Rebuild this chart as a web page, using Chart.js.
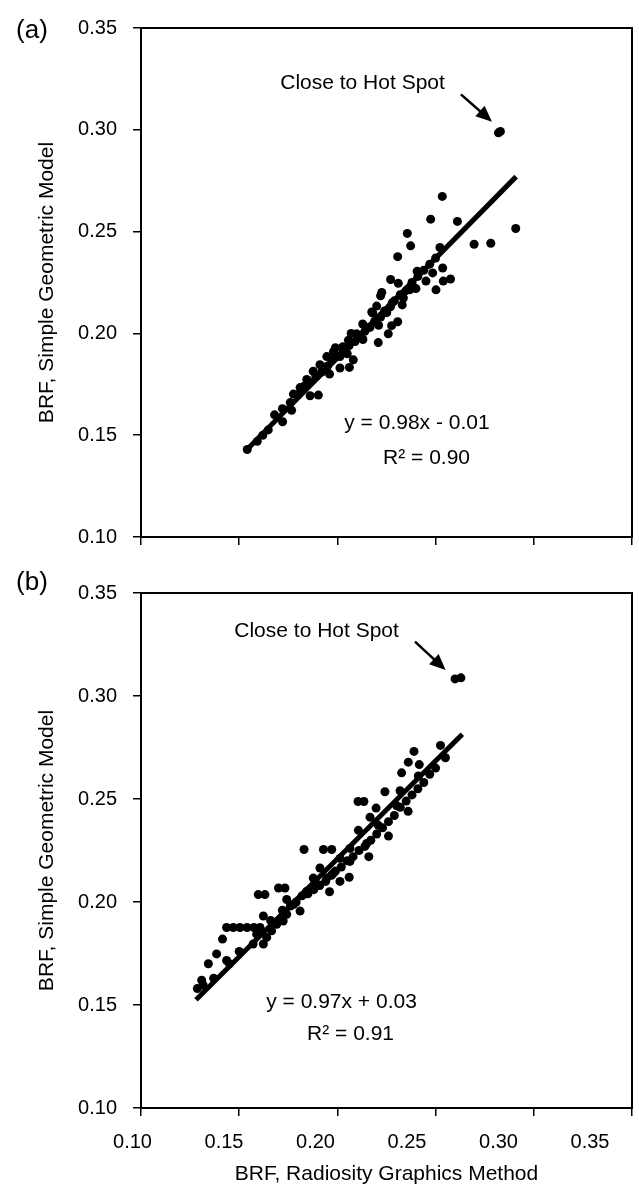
<!DOCTYPE html>
<html>
<head>
<meta charset="utf-8">
<script src="https://cdn.jsdelivr.net/npm/chart.js@4.4.0/dist/chart.umd.min.js"></script>
<style>
  html, body { margin: 0; padding: 0; background: #fff; }
  canvas { display: block; }
</style>
</head>
<body>
<canvas id="chartA" width="639" height="565"></canvas>
<canvas id="chartB" width="639" height="625"></canvas>
<script>
// panel (a): BRF radiosity (x) vs BRF simple geometric model (y)
const aRadiosity = [0.2820, 0.2830, 0.2534, 0.2475, 0.2611, 0.2908, 0.2356, 0.2373, 0.2696, 0.2781,
  0.2522, 0.2307, 0.2406, 0.2485, 0.2536, 0.2271, 0.2310, 0.2451, 0.2539, 0.2576,
  0.2502, 0.2226, 0.2378, 0.2370, 0.2336, 0.2220, 0.2279, 0.2200, 0.2175, 0.2251,
  0.2307, 0.2276, 0.2259, 0.2208, 0.2129, 0.2166, 0.2098, 0.2056, 0.2027, 0.1980,
  0.1946, 0.2013, 0.2081, 0.2061, 0.2013, 0.1911, 0.1877, 0.1844, 0.1894, 0.1810,
  0.1776, 0.1861, 0.1903, 0.1767, 0.1721, 0.1648, 0.1592, 0.1541,
  0.176, 0.180, 0.183, 0.186, 0.189, 0.192, 0.195, 0.197, 0.200, 0.203,
  0.206, 0.209, 0.211, 0.214, 0.216, 0.219, 0.222, 0.224, 0.227, 0.229,
  0.232, 0.235, 0.238, 0.241, 0.244, 0.247, 0.250, 0.196, 0.205, 0.213,
  0.221, 0.233, 0.240, 0.168, 0.162, 0.172, 0.218, 0.207, 0.199];
const aGeometric = [0.2985, 0.2992, 0.2673, 0.2561, 0.2550, 0.2515, 0.2491, 0.2430, 0.2438, 0.2443,
  0.2422, 0.2377, 0.2305, 0.2297, 0.2321, 0.2265, 0.2246, 0.2257, 0.2257, 0.2267,
  0.2214, 0.2201, 0.2238, 0.2215, 0.2174, 0.2185, 0.2150, 0.2134, 0.2105, 0.2102,
  0.2057, 0.2038, 0.1998, 0.1955, 0.2046, 0.2030, 0.1998, 0.1966, 0.1934, 0.1910,
  0.1886, 0.1886, 0.1870, 0.1833, 0.1830, 0.1846, 0.1814, 0.1774, 0.1790, 0.1734,
  0.1702, 0.1694, 0.1697, 0.1622, 0.1566, 0.1526, 0.1470, 0.1430,
  0.166, 0.170, 0.174, 0.176, 0.179, 0.181, 0.184, 0.187, 0.189, 0.191,
  0.194, 0.196, 0.199, 0.201, 0.203, 0.206, 0.208, 0.211, 0.213, 0.216,
  0.219, 0.221, 0.225, 0.228, 0.231, 0.234, 0.237, 0.180, 0.190, 0.197,
  0.204, 0.214, 0.222, 0.160, 0.150, 0.163, 0.210, 0.200, 0.193];
const aFitX = [0.154, 0.291];
const aFitY = [0.143, 0.277];

// panel (b)
const bRadiosity = [0.2599, 0.2629, 0.2525, 0.2390, 0.2361, 0.2417, 0.2327, 0.2412, 0.2319, 0.2242,
  0.2105, 0.2135, 0.2197, 0.2302, 0.2166, 0.2208, 0.2149, 0.2107, 0.2064, 0.1830,
  0.1929, 0.1971, 0.2013, 0.2064, 0.1911, 0.1877, 0.1946, 0.1980, 0.2013, 0.1903,
  0.1844, 0.1700, 0.1733, 0.1597, 0.1631, 0.1742, 0.1776, 0.1810, 0.1742, 0.1724,
  0.1691, 0.1623, 0.1606, 0.1665, 0.1640, 0.1589, 0.1571, 0.1623, 0.1436, 0.1470,
  0.1504, 0.1540, 0.1575, 0.1415, 0.1385, 0.1436, 0.1343, 0.1309, 0.1287, 0.1317,
  0.172, 0.176, 0.179, 0.182, 0.185, 0.188, 0.191, 0.194, 0.197, 0.199,
  0.202, 0.205, 0.208, 0.211, 0.214, 0.217, 0.220, 0.223, 0.226, 0.229,
  0.232, 0.235, 0.238, 0.241, 0.244, 0.247, 0.250, 0.255, 0.196, 0.206,
  0.216, 0.226, 0.236, 0.166, 0.160, 0.150, 0.145, 0.137];
const bGeometric = [0.3083, 0.3088, 0.2760, 0.2731, 0.2679, 0.2667, 0.2627, 0.2612, 0.2540, 0.2535,
  0.2488, 0.2488, 0.2456, 0.2467, 0.2412, 0.2372, 0.2284, 0.2348, 0.2260, 0.2255,
  0.2255, 0.2255, 0.2212, 0.2197, 0.2165, 0.2116, 0.2116, 0.2140, 0.2100, 0.2084,
  0.2052, 0.2068, 0.2068, 0.2036, 0.2036, 0.2012, 0.1988, 0.1956, 0.1940, 0.1908,
  0.1892, 0.1932, 0.1876, 0.1860, 0.1828, 0.1844, 0.1796, 0.1796, 0.1876, 0.1876,
  0.1876, 0.1876, 0.1876, 0.1820, 0.1748, 0.1716, 0.1700, 0.1620, 0.1580, 0.1596,
  0.196, 0.198, 0.200, 0.203, 0.204, 0.206, 0.208, 0.210, 0.213, 0.215,
  0.217, 0.220, 0.222, 0.225, 0.227, 0.230, 0.233, 0.236, 0.239, 0.242,
  0.246, 0.249, 0.252, 0.255, 0.258, 0.262, 0.265, 0.270, 0.205, 0.212,
  0.222, 0.232, 0.244, 0.191, 0.185, 0.176, 0.170, 0.163];
const bFitX = [0.128, 0.2636];
const bFitY = [0.1525, 0.2814];

const axisTicks = [0.10, 0.15, 0.20, 0.25, 0.30, 0.35];

const FONT = '"Liberation Sans", Arial, Helvetica, sans-serif';

function toPoints(xs, ys) {
  return xs.map((x, i) => ({ x: x, y: ys[i] }));
}

// draws the box, the panel letter, the hot spot note and the fit equation
const decorPlugin = {
  id: 'decor',
  afterDatasetsDraw(chart, args, opts) {
    const ctx = chart.ctx;
    const area = chart.chartArea;
    const xs = chart.scales.x, ys = chart.scales.y;
    ctx.save();
    ctx.strokeStyle = '#000';
    ctx.lineWidth = 2;
    ctx.strokeRect(area.left, area.top, area.right - area.left, area.bottom - area.top);

    ctx.fillStyle = '#000';
    ctx.textAlign = 'center';
    ctx.textBaseline = 'middle';
    ctx.font = '26px ' + FONT;
    ctx.fillText(opts.letter, opts.letterPos[0], opts.letterPos[1]);

    ctx.font = '21px ' + FONT;
    ctx.fillText('Close to Hot Spot', xs.getPixelForValue(opts.note[0]), ys.getPixelForValue(opts.note[1]));
    ctx.fillText(opts.eq, xs.getPixelForValue(opts.eqPos[0]), ys.getPixelForValue(opts.eqPos[1]));
    ctx.fillText(opts.r2, xs.getPixelForValue(opts.r2Pos[0]), ys.getPixelForValue(opts.r2Pos[1]));

    // arrow
    const x1 = xs.getPixelForValue(opts.arrow[0]), y1 = ys.getPixelForValue(opts.arrow[1]);
    const x2 = xs.getPixelForValue(opts.arrow[2]), y2 = ys.getPixelForValue(opts.arrow[3]);
    const ang = Math.atan2(y2 - y1, x2 - x1);
    const head = 16, half = 7;
    ctx.lineWidth = 2.5;
    ctx.beginPath();
    ctx.moveTo(x1, y1);
    ctx.lineTo(x2 - Math.cos(ang) * head * 0.8, y2 - Math.sin(ang) * head * 0.8);
    ctx.stroke();
    ctx.beginPath();
    ctx.moveTo(x2, y2);
    ctx.lineTo(x2 - Math.cos(ang) * head - Math.sin(ang) * half, y2 - Math.sin(ang) * head + Math.cos(ang) * half);
    ctx.lineTo(x2 - Math.cos(ang) * head + Math.sin(ang) * half, y2 - Math.sin(ang) * head - Math.cos(ang) * half);
    ctx.closePath();
    ctx.fill();
    ctx.restore();
  }
};

function makeConfig(xs, ys, fitX, fitY, decor, withLabels, topPad, xHeight) {
  const scales = {
    x: {
      type: 'linear', position: 'bottom', weight: 0,
      min: 0.10, max: 0.35,
      afterBuildTicks: s => { s.ticks = axisTicks.map(v => ({ value: v })); },
      afterFit: s => { s.height = xHeight; },
      ticks: { display: false },
      grid: { drawOnChartArea: false, drawTicks: true, tickLength: 8, color: '#000', lineWidth: 1.5 },
      border: { display: true, color: '#000', width: 2 }
    },
    y: {
      type: 'linear', position: 'left',
      min: 0.10, max: 0.35,
      afterBuildTicks: s => { s.ticks = axisTicks.map(v => ({ value: v })); },
      afterFit: s => { s.width = 141; },
      ticks: {
        color: '#000', padding: 16,
        font: { family: FONT, size: 20 },
        callback: v => Number(v).toFixed(2)
      },
      grid: { drawOnChartArea: false, drawTicks: true, tickLength: 8, color: '#000', lineWidth: 1.5 },
      border: { display: true, color: '#000', width: 2 },
      title: {
        display: true, text: 'BRF, Simple Geometric Model', color: '#000',
        font: { family: FONT, size: 21 }, padding: { top: 35, bottom: 0 }
      }
    }
  };
  if (withLabels) {
    // label row of the scanned figure sits slightly off the tick marks
    scales.xl = {
      type: 'linear', position: 'bottom', weight: 1,
      min: 0.104645, max: 0.37295,
      afterBuildTicks: s => { s.ticks = axisTicks.map(v => ({ value: v })); },
      afterFit: s => { s.height = 74; },
      ticks: {
        color: '#000', padding: 14, autoSkip: false, maxRotation: 0,
        font: { family: FONT, size: 20 },
        callback: v => Number(v).toFixed(2)
      },
      grid: { display: false, drawTicks: false },
      border: { display: false },
      title: {
        display: true, text: 'BRF, Radiosity Graphics Method', color: '#000',
        font: { family: FONT, size: 21, lineHeight: 1 }, padding: { top: 0, bottom: 5 }
      }
    };
  }
  return {
    type: 'scatter',
    data: {
      datasets: [
        {
          label: 'points',
          data: toPoints(xs, ys),
          backgroundColor: '#000', borderWidth: 0,
          pointRadius: 4.5, pointHoverRadius: 4.5
        },
        {
          type: 'line',
          label: 'fit',
          data: toPoints(fitX, fitY),
          borderColor: '#000', borderWidth: 5,
          pointRadius: 0, fill: false, tension: 0
        }
      ]
    },
    options: {
      responsive: false,
      animation: false,
      devicePixelRatio: 1,
      layout: { padding: { top: topPad, right: 7, left: 0, bottom: 0 } },
      plugins: { legend: { display: false }, tooltip: { enabled: false }, decor: decor },
      scales: scales
    },
    plugins: [decorPlugin]
  };
}

new Chart(document.getElementById('chartA'), makeConfig(
  aRadiosity, aGeometric, aFitX, aFitY,
  {
    letter: '(a)', letterPos: [32, 31],
    note: [0.2128, 0.3231], arrow: [0.2629, 0.3174, 0.2787, 0.3040],
    eq: 'y = 0.98x - 0.01', eqPos: [0.2405, 0.1557],
    r2: 'R\u00B2 = 0.90', r2Pos: [0.2454, 0.1389]
  },
  false, 27, 17));

new Chart(document.getElementById('chartB'), makeConfig(
  bRadiosity, bGeometric, bFitX, bFitY,
  {
    letter: '(b)', letterPos: [32, 18],
    note: [0.1894, 0.3313], arrow: [0.2395, 0.3264, 0.2551, 0.3126],
    eq: 'y = 0.97x + 0.03', eqPos: [0.2021, 0.1515],
    r2: 'R\u00B2 = 0.91', r2Pos: [0.2067, 0.1357]
  },
  true, 23, 8));
</script>
</body>
</html>
